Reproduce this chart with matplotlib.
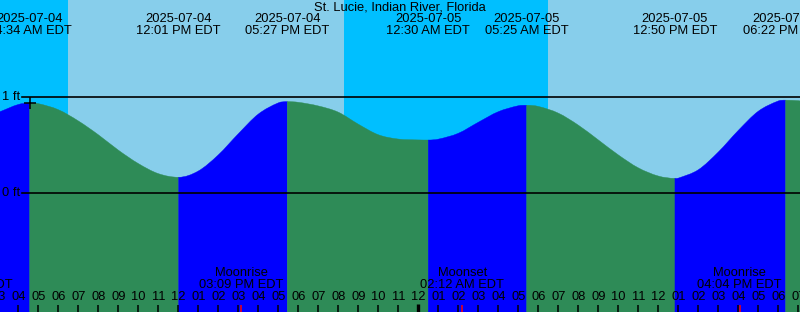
import matplotlib
matplotlib.use('Agg')
import matplotlib.pyplot as plt
from matplotlib.transforms import blended_transform_factory
from matplotlib.path import Path
from matplotlib.patches import PathPatch

plt.rcParams['font.family'] = ['Liberation Sans', 'DejaVu Sans']

title = "St. Lucie, Indian River, Florida"

# time axis: hours since 2025-07-04 00:00 EDT
view_start = 3.085
view_end = 43.085

# tide curve (hours, feet)
tide_hours = [3.085, 4, 4.567, 5, 6, 7, 8, 9, 10, 11, 12.017, 13, 14, 15, 16, 17,
              17.45, 18, 19, 20, 21, 22, 23, 24, 24.5, 25, 26, 27, 28, 29, 29.417,
              30, 31, 32, 33, 34, 35, 36, 36.833, 37, 38, 39, 40, 41, 42, 42.367,
              43, 43.085]
tide_feet = [0.85, 0.925, 0.94, 0.934, 0.871, 0.754, 0.61, 0.45, 0.31, 0.205, 0.167,
             0.232, 0.40, 0.62, 0.825, 0.942, 0.955, 0.948, 0.91, 0.845, 0.72, 0.61,
             0.565, 0.556, 0.555, 0.564, 0.625, 0.74, 0.85, 0.912, 0.917, 0.905,
             0.835, 0.71, 0.556, 0.40, 0.265, 0.18, 0.156, 0.158, 0.245, 0.43, 0.655,
             0.855, 0.962, 0.97, 0.965, 0.962]

# high / low tides
ext_hours = [4.567, 12.017, 17.45, 24.5, 29.417, 36.833, 42.367]
ext_dates = ['2025-07-04', '2025-07-04', '2025-07-04', '2025-07-05',
             '2025-07-05', '2025-07-05', '2025-07-05']
ext_times = ['04:34 AM EDT', '12:01 PM EDT', '05:27 PM EDT', '12:30 AM EDT',
             '05:25 AM EDT', '12:50 PM EDT', '06:22 PM EDT']

# sun
night_spans = [(view_start, 6.485), (20.285, 30.485)]
day_spans = [(6.485, 20.285), (30.485, view_end)]

# moon
moon_hours = [1.617, 15.15, 26.2, 40.067]
moon_names = ['Moonset', 'Moonrise', 'Moonset', 'Moonrise']
moon_times = ['01:37 AM EDT', '03:09 PM EDT', '02:12 AM EDT', '04:04 PM EDT']

hour_ticks = list(range(3, 44))

W, H = 800, 312
fig = plt.figure(figsize=(W / 100, H / 100), dpi=100)
ax = fig.add_axes([0, 0, 1, 1])
ax.set_axis_off()
ft_px = 96.0
zero_px = 193.3
ymax = zero_px / ft_px
ymin = -(H - zero_px) / ft_px
ax.set_xlim(view_start, view_end)
ax.set_ylim(ymin, ymax)

for a, b in night_spans:
    ax.axvspan(a, b, color='#00BFFF', lw=0, zorder=0)
for a, b in day_spans:
    ax.axvspan(a, b, color='#87CEEB', lw=0, zorder=0)

# slopes for a smooth (Bezier) rendering of the read points
n = len(tide_hours)
slopes = []
for i in range(n):
    if tide_hours[i] in ext_hours:
        slopes.append(0.0)
    elif i == 0:
        slopes.append((tide_feet[1] - tide_feet[0]) / (tide_hours[1] - tide_hours[0]))
    elif i == n - 1:
        slopes.append((tide_feet[-1] - tide_feet[-2]) / (tide_hours[-1] - tide_hours[-2]))
    else:
        slopes.append((tide_feet[i + 1] - tide_feet[i - 1]) /
                      (tide_hours[i + 1] - tide_hours[i - 1]))

bounds = [view_start] + ext_hours + [view_end]
for a, b in zip(bounds[:-1], bounds[1:]):
    idx = [i for i, t in enumerate(tide_hours) if a <= t <= b]
    verts = [(tide_hours[idx[0]], tide_feet[idx[0]])]
    codes = [Path.MOVETO]
    for i, j in zip(idx[:-1], idx[1:]):
        dt = tide_hours[j] - tide_hours[i]
        verts += [(tide_hours[i] + dt / 3, tide_feet[i] + slopes[i] * dt / 3),
                  (tide_hours[j] - dt / 3, tide_feet[j] - slopes[j] * dt / 3),
                  (tide_hours[j], tide_feet[j])]
        codes += [Path.CURVE4] * 3
    verts += [(tide_hours[idx[-1]], ymin), (tide_hours[idx[0]], ymin), verts[0]]
    codes += [Path.LINETO, Path.LINETO, Path.CLOSEPOLY]
    rising = tide_feet[idx[-1]] > tide_feet[idx[0]]
    col = '#0000FF' if rising else '#2E8B57'
    ax.add_patch(PathPatch(Path(verts, codes), facecolor=col, edgecolor=col,
                           lw=0.3, zorder=2))

lx = 22 / W
ax.axhline(1, xmin=lx, xmax=1, color='black', lw=1.2, zorder=3)
ax.axhline(0, xmin=lx, xmax=1, color='black', lw=1.2, zorder=3)
tr_ax = ax.transAxes
ax.text(20 / W, 1, '1 ft', transform=blended_transform_factory(tr_ax, ax.transData),
        ha='right', va='center', fontsize=9.3, zorder=4)
ax.text(20 / W, 0, '0 ft', transform=blended_transform_factory(tr_ax, ax.transData),
        ha='right', va='center', fontsize=9.3, zorder=4)

ax.plot([ext_hours[0]], [tide_feet[tide_hours.index(ext_hours[0])]], marker='+',
        color='black', ms=8, mew=1.1, zorder=5)

tr = blended_transform_factory(ax.transData, tr_ax)
def yf(px):
    return 1 - px / H

ax.text(0.5, yf(7.5), title, transform=tr_ax, ha='center', va='center', fontsize=9.3)
for t, d, s in zip(ext_hours, ext_dates, ext_times):
    ax.text(t, yf(19.5), d, transform=tr, ha='center', va='center', fontsize=9.3, clip_on=False)
    ax.text(t, yf(31.5), s, transform=tr, ha='center', va='center', fontsize=9.3, clip_on=False)

for t, nme, s in zip(moon_hours, moon_names, moon_times):
    ax.text(t, yf(273.5), nme, transform=tr, ha='center', va='center', fontsize=9.3, zorder=6)
    ax.text(t, yf(285.5), s, transform=tr, ha='center', va='center', fontsize=9.3, zorder=6)
    ax.plot([t, t], [yf(305), 0], transform=tr, color='red', lw=1.1, zorder=6,
            solid_capstyle='butt')

for h in hour_ticks:
    lab = '%02d' % ((h - 1) % 12 + 1)
    ax.text(h, yf(297.5), lab, transform=tr, ha='center', va='center', fontsize=9.3, zorder=6)
    if h % 24 == 0:
        ax.plot([h, h], [yf(304), 0], transform=tr, color='black', lw=2.4, zorder=6,
                solid_capstyle='butt')
    else:
        ax.plot([h, h], [yf(305), 0], transform=tr, color='black', lw=1.1, zorder=6,
                solid_capstyle='butt')

fig.savefig('out.png', dpi=100)
